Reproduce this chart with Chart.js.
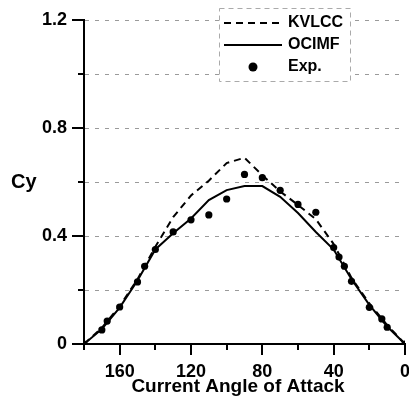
<!DOCTYPE html>
<html>
<head>
<meta charset="utf-8">
<script src="https://cdn.jsdelivr.net/npm/chart.js"></script>
<style>
  body { margin: 0; background: #fff; }
  canvas { display: block; }
</style>
</head>
<body>
<canvas id="cyChart" width="409" height="405"></canvas>
<script>
// Cy vs current angle of attack
const lineAngles = [180, 170, 160, 150, 140, 130, 120, 110, 100, 90, 80, 70, 60, 50, 40, 30, 20, 10, 0];
const kvlccValues = [0, 0.06, 0.14, 0.24, 0.36, 0.47, 0.55, 0.605, 0.67, 0.69, 0.625, 0.565, 0.515, 0.462, 0.37, 0.245, 0.15, 0.07, 0];
const ocimfValues = [0, 0.055, 0.135, 0.235, 0.35, 0.41, 0.465, 0.533, 0.57, 0.585, 0.585, 0.545, 0.485, 0.415, 0.35, 0.24, 0.145, 0.065, 0];

const expAngles = [180, 170, 167, 160, 150, 146, 140, 130, 120, 110, 100, 90, 80, 70, 60, 50, 40, 37, 34, 30, 20, 13, 10, 0];
const expValues = [0, 0.052, 0.085, 0.137, 0.23, 0.288, 0.35, 0.415, 0.46, 0.478, 0.537, 0.628, 0.616, 0.569, 0.517, 0.488, 0.357, 0.322, 0.288, 0.232, 0.136, 0.093, 0.062, 0];

const xTickLabels = [160, 120, 80, 40, 0];
const yTickLabels = [0, 0.4, 0.8, 1.2];

const toPoints = (xs, ys) => xs.map((x, i) => ({ x: x, y: ys[i] }));
const isYLabel = v => yTickLabels.some(t => Math.abs(t - v) < 1e-6);

const FONT = '"Liberation Sans", Arial, sans-serif';

// outward ticks (long where labelled), axis titles and the boxed legend
const decorations = {
  id: 'decorations',
  afterDraw(chart) {
    const ctx = chart.ctx;
    const xs = chart.scales.x, ys = chart.scales.y;
    const area = chart.chartArea;
    ctx.save();
    ctx.setLineDash([]);
    ctx.fillStyle = '#000';
    for (let v = 0; v <= 180; v += 20) {
      const px = Math.round(xs.getPixelForValue(v));
      const len = xTickLabels.includes(v) ? 11 : 6;
      ctx.fillRect(px - 1, area.bottom, 2, len);
    }
    for (let k = 0; k <= 6; k++) {
      const v = k * 0.2;
      const py = Math.round(ys.getPixelForValue(v));
      const len = isYLabel(v) ? 12 : 6;
      ctx.fillRect(area.left - len, py - 1, len, 2);
    }

    // axis titles
    ctx.font = 'bold 20px ' + FONT;
    ctx.textAlign = 'left';
    ctx.textBaseline = 'middle';
    ctx.fillText('Cy', 11, ys.getPixelForValue(0.6));
    ctx.font = 'bold 19px ' + FONT;
    ctx.textAlign = 'center';
    ctx.textBaseline = 'alphabetic';
    ctx.fillText('Current Angle of Attack', 238, 392);

    // legend box
    const bx = 219, by = 8, bw = 131, bh = 73;
    ctx.fillStyle = '#fff';
    ctx.fillRect(bx, by, bw, bh);
    ctx.setLineDash([5, 4]);
    ctx.lineWidth = 1;
    ctx.strokeStyle = '#aaa';
    ctx.strokeRect(bx + 0.5, by + 0.5, bw, bh);

    const rows = [23, 45, 67];
    chart.data.datasets.forEach((ds, i) => {
      const y = rows[i];
      ctx.strokeStyle = '#000';
      ctx.fillStyle = '#000';
      if (ds.showLine === false) {
        ctx.beginPath();
        ctx.arc(253, y, 4.5, 0, Math.PI * 2);
        ctx.fill();
      } else {
        ctx.lineWidth = ds.borderWidth;
        ctx.setLineDash(ds.borderDash || []);
        ctx.beginPath();
        ctx.moveTo(224, y);
        ctx.lineTo(282, y);
        ctx.stroke();
      }
      ctx.setLineDash([]);
      ctx.font = 'bold 16px ' + FONT;
      ctx.textAlign = 'left';
      ctx.textBaseline = 'middle';
      ctx.fillText(ds.label, 288, y);
    });
    ctx.restore();
  }
};

new Chart(document.getElementById('cyChart'), {
  type: 'scatter',
  data: {
    datasets: [
      {
        label: 'KVLCC',
        data: toPoints(lineAngles, kvlccValues),
        showLine: true,
        borderColor: '#000',
        borderWidth: 2,
        borderDash: [7, 5],
        pointRadius: 0,
        fill: false
      },
      {
        label: 'OCIMF',
        data: toPoints(lineAngles, ocimfValues),
        showLine: true,
        borderColor: '#000',
        borderWidth: 2,
        pointRadius: 0,
        fill: false
      },
      {
        label: 'Exp.',
        data: toPoints(expAngles, expValues),
        showLine: false,
        pointRadius: 3.6,
        pointBackgroundColor: '#000',
        pointBorderWidth: 0
      }
    ]
  },
  options: {
    responsive: false,
    animation: false,
    layout: { padding: { top: 20, right: 3, left: 0, bottom: 0 } },
    plugins: { legend: { display: false }, tooltip: { enabled: false } },
    scales: {
      x: {
        type: 'linear',
        reverse: true,
        min: 0,
        max: 180,
        grid: { display: false, drawTicks: false },
        border: { display: true, color: '#000', width: 2 },
        ticks: {
          stepSize: 20,
          padding: 17,
          color: '#000',
          font: { family: FONT, size: 18, weight: 'bold' },
          maxRotation: 0,
          autoSkip: false,
          callback: v => xTickLabels.includes(v) ? String(v) : ''
        },
        afterFit: s => { s.height = 61; s.paddingLeft = 0; s.paddingRight = 0; }
      },
      y: {
        min: 0,
        max: 1.2,
        grid: {
          drawTicks: false,
          color: c => c.tick && c.tick.value === 0 ? 'rgba(0,0,0,0)' : '#9a9a9a',
          lineWidth: 1
        },
        border: { display: true, color: '#000', width: 2, dash: [4, 6] },
        ticks: {
          stepSize: 0.2,
          padding: 17,
          color: '#000',
          font: { family: FONT, size: 18, weight: 'bold' },
          callback: v => {
            const hit = yTickLabels.find(t => Math.abs(t - v) < 1e-6);
            return hit === undefined ? '' : String(hit);
          }
        },
        afterFit: s => { s.width = 84; s.paddingTop = 0; s.paddingBottom = 0; }
      }
    }
  },
  plugins: [decorations]
});
</script>
</body>
</html>
